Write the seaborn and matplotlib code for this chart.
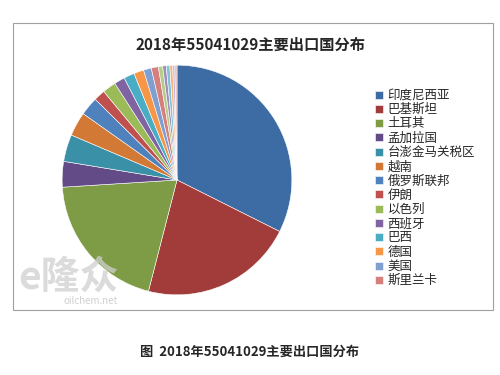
import matplotlib
matplotlib.use("Agg")
import matplotlib.pyplot as plt
import seaborn as sns
from matplotlib.patches import Rectangle

# Data (share of exports, %)
countries = ["印度尼西亚", "巴基斯坦", "土耳其", "孟加拉国", "台澎金马关税区", "越南", "俄罗斯联邦",
             "伊朗", "以色列", "西班牙", "巴西", "德国", "美国", "斯里兰卡"]
shares = [32.4, 21.6, 20.0, 3.6, 3.8, 3.4, 2.6, 1.6, 1.9, 1.5, 1.5, 1.4, 1.1, 1.0]
# small slices not listed in the legend
other_shares = [0.6, 0.5, 0.5, 0.4, 0.3, 0.3]

dark = ["#3d6ba3", "#a13c3a", "#7d9c45", "#634b88", "#3a90a6", "#d27a35"]
base = ["#4f81bd", "#c0504d", "#9bbb59", "#8064a2", "#4bacc6", "#f79646"]
light = ["#7f9fd1", "#d6807e", "#b5cd88", "#a08db9", "#80c4d7", "#f9b07a"]
colors = sns.color_palette(dark + base + light + ["#c9b3d6", "#e6b9b8", "#c4d7ee", "#d9c3e8", "#f2c9a0", "#d8d8e8"])

sns.set_theme(style="white")
plt.rcParams["font.family"] = ["Noto Sans CJK SC", "DejaVu Sans"]

fig = plt.figure(figsize=(5, 3.75), dpi=100)
fig.patch.set_facecolor("white")

# chart frame
fig.patches.append(Rectangle((13 / 500, 1 - 310 / 375), 480 / 500, 287 / 375,
                             transform=fig.transFigure, fill=False,
                             edgecolor="#a0a0a0", linewidth=0.8))

ax = fig.add_axes([61 / 500, 79 / 375, 232 / 500, 232 / 375])
wedges, _ = ax.pie(shares + other_shares, colors=colors[:len(shares) + len(other_shares)],
                   startangle=90, counterclock=False, radius=1,
                   wedgeprops=dict(edgecolor="white", linewidth=0.4))
ax.set_xlim(-1.01, 1.01)
ax.set_ylim(-1.01, 1.01)
ax.set_aspect("equal")
ax.axis("off")

fig.text(0.5, 1 - 45 / 375, "2018年55041029主要出口国分布", ha="center", va="center",
         fontsize=11, fontweight="bold")

fig.legend(wedges[:len(countries)], countries, loc="upper left",
           bbox_to_anchor=(370 / 500, 1 - 84 / 375), frameon=False,
           fontsize=9, handlelength=0.6, handleheight=0.6, handletextpad=0.4,
           labelspacing=0.1, borderaxespad=0)

# watermark
fig.text(18 / 500, 1 - 277 / 375, "e隆众", fontsize=28, fontweight="bold",
         color="#d0d0d0", alpha=0.75, va="center", ha="left")
fig.text(64 / 500, 1 - 301 / 375, "oilchem.net", fontsize=7, color="#c8c8c8",
         alpha=0.85, va="center", ha="left")

fig.text(0.5, 1 - 352 / 375, "图  2018年55041029主要出口国分布", ha="center", va="center",
         fontsize=9.5, fontweight="bold")

fig.savefig("out.png", dpi=100, facecolor="white")
